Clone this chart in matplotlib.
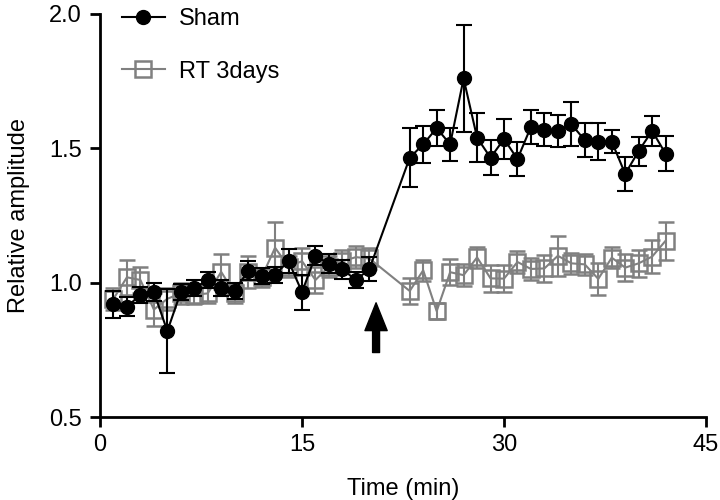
import matplotlib.pyplot as plt
import numpy as np
from matplotlib.lines import Line2D

plt.rcParams["font.family"] = ["Liberation Sans", "DejaVu Sans"]

time_min = [1, 2, 3, 4, 5, 6, 7, 8, 9, 10, 11, 12, 13, 14, 15, 16, 17, 18, 19, 20,
            23, 24, 25, 26, 27, 28, 29, 30, 31, 32, 33, 34, 35, 36, 37, 38, 39, 40, 41, 42]

sham_mean = [0.92, 0.91, 0.955, 0.965, 0.82, 0.965, 0.98, 1.01, 0.98, 0.97,
             1.045, 1.025, 1.03, 1.08, 0.965, 1.10, 1.07, 1.05, 1.01, 1.05,
             1.465, 1.515, 1.575, 1.515, 1.76, 1.54, 1.465, 1.535, 1.46, 1.58,
             1.57, 1.565, 1.59, 1.53, 1.525, 1.525, 1.405, 1.49, 1.565, 1.48]
sham_sem = [0.05, 0.035, 0.03, 0.035, 0.155, 0.03, 0.03, 0.03, 0.03, 0.03,
            0.035, 0.03, 0.03, 0.045, 0.065, 0.035, 0.035, 0.035, 0.03, 0.045,
            0.11, 0.068, 0.068, 0.062, 0.2, 0.09, 0.066, 0.075, 0.063, 0.063,
            0.06, 0.06, 0.083, 0.063, 0.07, 0.043, 0.063, 0.054, 0.057, 0.066]

rt_mean = [0.94, 1.02, 1.01, 0.90, 0.94, 0.96, 0.955, 0.96, 1.04, 0.96,
           1.04, 1.02, 1.13, 1.06, 1.08, 1.01, 1.06, 1.08, 1.095, 1.09,
           0.969, 1.046, 0.894, 1.039, 1.028, 1.094, 1.016, 1.015, 1.077, 1.051,
           1.053, 1.10, 1.072, 1.068, 1.014, 1.093, 1.056, 1.072, 1.097, 1.156]
rt_sem = [0.04, 0.065, 0.05, 0.06, 0.04, 0.04, 0.035, 0.035, 0.065, 0.035,
          0.06, 0.035, 0.095, 0.04, 0.05, 0.05, 0.04, 0.04, 0.04, 0.04,
          0.05, 0.04, 0.03, 0.048, 0.04, 0.04, 0.05, 0.05, 0.04, 0.04,
          0.05, 0.075, 0.04, 0.04, 0.06, 0.04, 0.05, 0.05, 0.06, 0.07]

grey = "#808080"

fig = plt.figure(figsize=(7.2, 5.0), dpi=100)
ax = fig.add_axes([100 / 720, 83 / 500, 606 / 720, 403 / 500])

ax.errorbar(time_min, rt_mean, yerr=rt_sem, color=grey, lw=1.5, marker="s",
            ms=11, mfc="none", mec=grey, mew=1.8, capsize=5.5, capthick=1.5,
            elinewidth=1.5, zorder=2)
ax.errorbar(time_min, sham_mean, yerr=sham_sem, color="black", lw=1.5, marker="o",
            ms=10, mfc="black", mec="black", capsize=5.5, capthick=1.5,
            elinewidth=1.5, zorder=3)

# drug application arrow
ax.annotate("", xy=(20.5, 0.925), xytext=(20.5, 0.74),
            arrowprops=dict(facecolor="black", edgecolor="black", width=5,
                            headwidth=16, headlength=20))

ax.set_xlim(0, 45)
ax.set_ylim(0.5, 2.0)
ax.set_xticks([0, 15, 30, 45])
ax.set_yticks([0.5, 1.0, 1.5, 2.0])
ax.set_yticklabels(["0.5", "1.0", "1.5", "2.0"])
ax.spines["top"].set_visible(False)
ax.spines["right"].set_visible(False)
ax.spines["left"].set_linewidth(2)
ax.spines["bottom"].set_linewidth(2)
ax.tick_params(direction="out", length=7, width=2, labelsize=17)
ax.tick_params(axis="y", pad=6)
ax.tick_params(axis="x", pad=5)
ax.set_xlabel("Time (min)", fontsize=17, labelpad=16)
ax.set_ylabel("Relative amplitude", fontsize=17, labelpad=14)

handles = [
    Line2D([], [], color="black", lw=1.5, marker="o", ms=10, mfc="black"),
    Line2D([], [], color=grey, lw=1.5, marker="s", ms=11, mfc="none", mew=1.8),
]
fig.legend(handles, ["Sham", "RT 3days"], loc="upper left",
           bbox_to_anchor=(122 / 720, 1 - 8 / 500), frameon=False, fontsize=17,
           handlelength=1.8, handletextpad=0.6, labelspacing=1.3,
           borderpad=0, borderaxespad=0)

fig.savefig("out.png", dpi=100)
